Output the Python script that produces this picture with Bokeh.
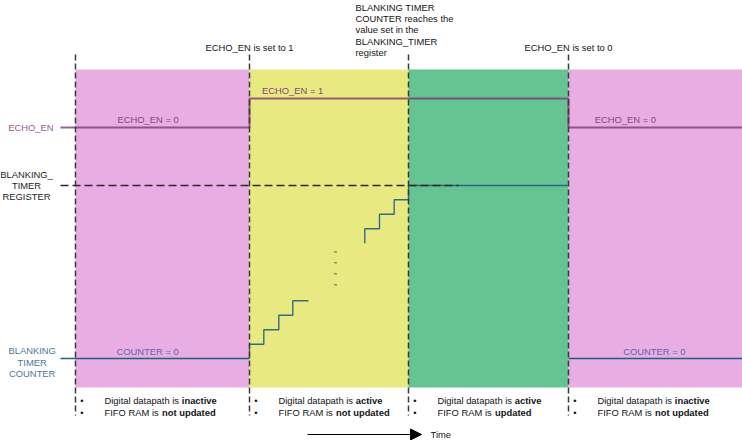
from bokeh.plotting import figure
from bokeh.models import Range1d, Arrow, NormalHead
from bokeh.embed import file_html
from bokeh.resources import INLINE
from bokeh.core.properties import value

FONT = value("Liberation Sans")
FS = "9.4px"

# ---- data (time axis in diagram units, lanes in diagram units) ----
phase_start = [75, 249, 408, 568]
phase_end = [249, 408, 568, 742]
phase_color = ["#e8aee4", "#e9e982", "#65c492", "#e8aee4"]
phase_top = [69, 69, 69, 69]
phase_bottom = [387, 387, 387, 387]
event_times = [75, 249, 408, 568]

echo_t = [60, 249, 249, 568, 568, 742]
echo_y = [127, 127, 98, 98, 127, 127]

register_t = [60, 458]
register_y = [185, 185]

counter_idle1_t = [60, 249]
counter_idle2_t = [568, 742]
counter_idle_y = [358, 358]

stair_low_t = [249, 249, 263.3, 263.3, 278.3, 278.3, 292.3, 292.3, 308]
stair_low_y = [358, 343.7, 343.7, 329.3, 329.3, 314.7, 314.7, 300.3, 300.3]
stair_high_t = [364.3, 364.3, 379, 379, 393.7, 393.7, 408, 408, 567]
stair_high_y = [242.7, 228.3, 228.3, 213.7, 213.7, 199.3, 199.3, 185, 185]

dots_t = [335, 335, 335, 335]
dots_y = [251.3, 262.3, 273.3, 284.3]

top_labels = ["ECHO_EN is set to 1", "ECHO_EN is set to 0"]
top_labels_x = [249, 568]
top_labels_y = [47, 47]

reach_lines = ["BLANKING TIMER", "COUNTER reaches the", "value set in the",
               "BLANKING_TIMER", "register"]
reach_y = [7, 18, 29.3, 40.5, 51.7]

signal_names = ["ECHO_EN = 0", "ECHO_EN = 1", "ECHO_EN = 0"]
signal_names_x = [117, 261.5, 594.3]
signal_names_y = [118.5, 90, 118.5]

counter_names = ["COUNTER = 0", "COUNTER = 0"]
counter_names_x = [116, 622.7]
counter_names_y = [350.7, 350.7]

line1_normal = "Digital datapath is "
line1_bold = ["inactive", "active", "active", "inactive"]
line2_normal = "FIFO RAM is "
line2_bold = ["not updated", "not updated", "updated", "not updated"]

# ---- figure ----
p = figure(width=742, height=440, output_backend="svg", toolbar_location=None,
           x_range=Range1d(0, 742), y_range=Range1d(440, 0), min_border=0)
p.axis.visible = False
p.grid.visible = False
p.outline_line_color = None
p.styles = {"position": "absolute", "left": "0px", "top": "0px"}

# phases
p.quad(left=phase_start, right=phase_end, top=phase_top, bottom=phase_bottom,
       fill_color=phase_color, line_color=None)

# ECHO_EN signal
p.line(echo_t, echo_y, line_color="#7f3a72", line_alpha=0.8, line_width=2)

# counter
p.line(counter_idle1_t, counter_idle_y, line_color="#235d80", line_width=1.4)
p.line(counter_idle2_t, counter_idle_y, line_color="#235d80", line_width=1.4)
p.line(stair_low_t, stair_low_y, line_color="#235d80", line_width=1.4, line_alpha=0.9)
p.line(stair_high_t, stair_high_y, line_color="#235d80", line_width=1.4, line_alpha=0.9)
p.scatter(dots_t, dots_y, marker="dash", size=3, line_color="#7d7a55", line_width=1.2)

# register threshold dashed
p.line(register_t, register_y, line_color="#2b2b2b", line_width=1.5, line_dash="8 4")

# event markers
for t in event_times:
    p.line([t, t], [54, 415], line_color="#3a3a3a", line_width=1.5, line_dash="6 3")

# left lane labels
p.text(x=[53], y=[127], text=["ECHO_EN"], text_font=FONT, text_font_size=FS,
       text_color="#9c5a92", text_align="right", text_baseline="middle")
p.text(x=[26, 26, 26], y=[174, 184.5, 195.5], text=["BLANKING_", "TIMER", "REGISTER"],
       text_font=FONT, text_font_size=FS, text_color="#1e1e1e",
       text_align="center", text_baseline="middle")
p.text(x=[31.7, 31.7, 31.7], y=[350, 361.5, 372.5], text=["BLANKING", "TIMER", "COUNTER"],
       text_font=FONT, text_font_size=FS, text_color="#4a7896",
       text_align="center", text_baseline="middle")

# signal value labels
p.text(x=signal_names_x, y=signal_names_y, text=signal_names, text_font=FONT,
       text_font_size=FS, text_color="#87457c", text_baseline="middle")
p.text(x=counter_names_x, y=counter_names_y, text=counter_names, text_font=FONT,
       text_font_size=FS, text_color="#5a68a8", text_baseline="middle")

# top event labels
p.text(x=top_labels_x, y=top_labels_y, text=top_labels, text_font=FONT,
       text_font_size=FS, text_color="#141414", text_align="center",
       text_baseline="middle")
p.text(x=[355] * len(reach_lines), y=reach_y, text=reach_lines, text_font=FONT,
       text_font_size=FS, text_color="#141414", text_baseline="middle")

# bottom bullets
bx = [s + 6.5 for s in phase_start]
tx = [s + 29 for s in phase_start]
p.text(x=bx + bx, y=[400] * 4 + [411.5] * 4, text=["\u2022"] * 8, text_font=FONT,
       text_font_size=FS, text_color="#141414", text_align="center",
       text_baseline="middle")
p.text(x=tx, y=[400] * 4, text=[line1_normal] * 4, text_font=FONT,
       text_font_size=FS, text_color="#141414", text_baseline="middle")
p.text(x=tx, y=[411.5] * 4, text=[line2_normal] * 4, text_font=FONT,
       text_font_size=FS, text_color="#141414", text_baseline="middle")
p.text(x=[x + 77.3 for x in tx], y=[400] * 4, text=line1_bold, text_font=FONT,
       text_font_size=FS, text_font_style="bold", text_color="#141414",
       text_baseline="middle")
p.text(x=[x + 57.5 for x in tx], y=[411.5] * 4, text=line2_bold, text_font=FONT,
       text_font_size=FS, text_font_style="bold", text_color="#141414",
       text_baseline="middle")

# time arrow
p.add_layout(Arrow(end=NormalHead(size=11, fill_color="black", line_color="black"),
                   x_start=307, y_start=434, x_end=421, y_end=434,
                   line_color="black", line_width=1.2))
p.text(x=[430], y=[433.5], text=["Time"], text_font=FONT, text_font_size=FS,
       text_color="#141414", text_baseline="middle")

open("out.html", "w").write(file_html(p, INLINE))
